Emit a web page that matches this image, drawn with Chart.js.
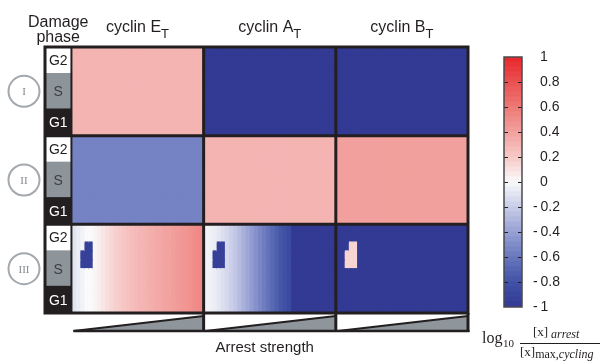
<!DOCTYPE html>
<html>
<head>
<meta charset="utf-8">
<script src="https://cdn.jsdelivr.net/npm/chart.js@4.4.1/dist/chart.umd.min.js"></script>
<style>
  html, body { margin: 0; padding: 0; background: #fff; }
  #wrap { position: relative; width: 602px; height: 364px; }
  #heat { position: absolute; left: 0; top: 0; }
  #bar { position: absolute; left: 480px; top: 40px; }
</style>
</head>
<body>
<div id="wrap">
  <canvas id="heat" width="602" height="364"></canvas>
  <canvas id="bar" width="122" height="280"></canvas>
</div>
<script>
const cyclins = ['E', 'A', 'B'];
const phases = ['G2', 'S', 'G1'];
const phaseRows = [3, 4, 3];          // share of the panel height per phase
const damageRows = ['I', 'II', 'III'];

// rows I and II are flat along arrest strength: one value per cyclin
const rowI = [0.3, -1, -1];
const rowII = [-0.55, 0.3, 0.4];

// row III, read along arrest strength (32 steps, weak -> strong)
const rowIII_E = [-0.1, -0.06, -0.03, 0, 0, 0.02, 0.05, 0.08, 0.11, 0.14, 0.17, 0.19, 0.21, 0.23, 0.25, 0.27,
                  0.29, 0.3, 0.32, 0.33, 0.35, 0.36, 0.38, 0.39, 0.41, 0.42, 0.44, 0.45, 0.47, 0.49, 0.51, 0.53];
const rowIII_A = [-0.03, -0.04, -0.06, -0.09, -0.12, -0.15, -0.19, -0.23, -0.28, -0.33, -0.38, -0.43, -0.48, -0.53, -0.58, -0.63,
                  -0.68, -0.73, -0.78, -0.82, -0.87, -1, -1, -1, -1, -1, -1, -1, -1, -1, -1, -1];
const rowIII_B = -1;

// small islands in row III: [cyclin, step, sub-row, value]
const patches = [
  [0, 3, 2, -0.95], [0, 4, 2, -0.95], [0, 2, 3, -0.95], [0, 3, 3, -0.95], [0, 4, 3, -0.95], [0, 2, 4, -0.95], [0, 3, 4, -0.95], [0, 4, 4, -0.95],
  [1, 3, 2, -0.95], [1, 4, 2, -0.95], [1, 2, 3, -0.95], [1, 3, 3, -0.95], [1, 4, 3, -0.95], [1, 2, 4, -0.95], [1, 3, 4, -0.95], [1, 4, 4, -0.95],
  [2, 3, 2, 0.15], [2, 4, 2, 0.15], [2, 2, 3, 0.15], [2, 3, 3, 0.15], [2, 4, 3, 0.15], [2, 2, 4, 0.15], [2, 3, 4, 0.15], [2, 4, 4, 0.15]
];

const colorTicks = [-1, -0.8, -0.6, -0.4, -0.2, 0, 0.2, 0.4, 0.6, 0.8, 1];
const cmapStops = [
  [50, 58, 148], [66, 82, 166], [106, 120, 190], [152, 162, 212], [200, 205, 232], [250, 250, 250],
  [246, 200, 198], [242, 160, 157], [238, 120, 117], [234, 80, 80], [232, 38, 42]
];

const ink = '#231f20';
const phaseFill = ['#ffffff', '#8d959a', ink];
const phaseText = [ink, '#3a3f43', '#ffffff'];
const labelW = 0.2;   // width of the phase column, in panel widths

function cmap(v) {
  v = Math.max(-1, Math.min(1, v));
  let i = 0;
  while (i < colorTicks.length - 2 && v > colorTicks[i + 1]) i++;
  const t = (v - colorTicks[i]) / (colorTicks[i + 1] - colorTicks[i]);
  const a = cmapStops[i], b = cmapStops[i + 1];
  const c = a.map((x, k) => Math.round(x + (b[k] - x) * t));
  return `rgb(${c[0]},${c[1]},${c[2]})`;
}

// one category per sub-row, top to bottom
const rowInfo = [];
damageRows.forEach((d, r) => {
  let sub = 0;
  phases.forEach((p, i) => {
    for (let k = 0; k < phaseRows[i]; k++) rowInfo.push({r, phase: i, sub: sub++, label: d + ' ' + p});
  });
});
const perRow = rowInfo.length / damageRows.length;
const nSteps = rowIII_E.length;
const rowIII = [rowIII_E, rowIII_A, rowIII_B];

function cellValue(r, c, s, sub) {
  if (r === 0) return rowI[c];
  if (r === 1) return rowII[c];
  const patch = patches.find(p => p[0] === c && p[1] === s && p[2] === sub);
  if (patch) return patch[3];
  return Array.isArray(rowIII[c]) ? rowIII[c][s] : rowIII[c];
}

const barStyle = {barPercentage: 1, categoryPercentage: 1, borderWidth: 0, inflateAmount: 0.6};
const datasets = [{
  ...barStyle,
  data: rowInfo.map(() => labelW),
  backgroundColor: rowInfo.map(o => phaseFill[o.phase])
}];
cyclins.forEach((cy, c) => {
  for (let s = 0; s < nSteps; s++) {
    datasets.push({
      ...barStyle,
      data: rowInfo.map(() => 1 / nSteps),
      backgroundColor: rowInfo.map(o => cmap(cellValue(o.r, c, s, o.sub)))
    });
  }
});

const decor = {
  id: 'decor',
  afterDraw(chart) {
    const {ctx, chartArea: a, scales: {x, y}} = chart;
    const xs = [0, labelW, labelW + 1, labelW + 2, labelW + 3].map(v => x.getPixelForValue(v));
    const edge = i => i <= 0 ? a.top : i >= rowInfo.length ? a.bottom
      : (y.getPixelForValue(i - 1) + y.getPixelForValue(i)) / 2;
    const ys = damageRows.map((d, r) => edge(r * perRow)).concat(a.bottom);
    ctx.save();

    // phase names in the left column
    ctx.textAlign = 'center';
    ctx.textBaseline = 'middle';
    ctx.font = '14px "Liberation Sans"';
    damageRows.forEach((d, r) => {
      let k = r * perRow;
      phases.forEach((p, i) => {
        const top = edge(k), bot = edge(k + phaseRows[i]);
        ctx.fillStyle = phaseText[i];
        ctx.fillText(p, (xs[0] + xs[1]) / 2, (top + bot) / 2 + 1);
        k += phaseRows[i];
      });
    });

    // panel frame
    ctx.strokeStyle = ink;
    ctx.lineWidth = 3;
    ctx.strokeRect(a.left, a.top, a.right - a.left, a.bottom - a.top);
    ctx.beginPath();
    [ys[1], ys[2]].forEach(py => { ctx.moveTo(a.left, py); ctx.lineTo(a.right, py); });
    ctx.stroke();
    ctx.lineWidth = 2;
    ctx.beginPath();
    ctx.moveTo(xs[1], a.top); ctx.lineTo(xs[1], a.bottom);
    ctx.stroke();

    // arrest strength wedges
    const sTop = a.bottom + 3, sBot = a.bottom + 18;
    for (let c = 0; c < 3; c++) {
      const x0 = xs[c + 1] + 2, x1 = xs[c + 2];
      ctx.fillStyle = '#8e969b';
      ctx.beginPath();
      ctx.moveTo(x0, sBot); ctx.lineTo(x1, sTop); ctx.lineTo(x1, sBot); ctx.closePath();
      ctx.fill();
      ctx.lineWidth = 2;
      ctx.beginPath();
      ctx.moveTo(x0, sBot); ctx.lineTo(x1, sTop);
      ctx.stroke();
    }
    ctx.lineWidth = 2.5;
    ctx.beginPath();
    ctx.moveTo(xs[1] + 2, sBot); ctx.lineTo(xs[4] + 1.5, sBot);
    ctx.stroke();
    ctx.lineWidth = 3;
    ctx.beginPath();
    [xs[2], xs[3]].forEach(px => { ctx.moveTo(px, a.top); ctx.lineTo(px, sBot + 1); });
    ctx.moveTo(xs[4], a.bottom); ctx.lineTo(xs[4], sBot + 1);
    ctx.stroke();

    // column headers
    ctx.fillStyle = ink;
    ctx.textAlign = 'left';
    ctx.textBaseline = 'alphabetic';
    cyclins.forEach((cy, c) => {
      const main = 'cyclin ' + cy;
      ctx.font = '16px "Liberation Sans"';
      const w1 = ctx.measureText(main).width;
      ctx.font = '13px "Liberation Sans"';
      const w2 = ctx.measureText('T').width;
      const cx = (xs[c + 1] + xs[c + 2]) / 2 - (w1 + w2) / 2;
      ctx.font = '16px "Liberation Sans"';
      ctx.fillText(main, cx, 32);
      ctx.font = '13px "Liberation Sans"';
      ctx.fillText('T', cx + w1, 38);
    });
    ctx.textAlign = 'center';
    ctx.font = '16px "Liberation Sans"';
    const lc = (xs[0] + xs[1]) / 2;
    ctx.fillText('Damage', lc, 27);
    ctx.fillText('phase', lc, 42);
    ctx.font = '15px "Liberation Sans"';
    ctx.fillText('Arrest strength', (xs[1] + xs[4]) / 2 - 5, 352);

    // damage row markers
    damageRows.forEach((d, r) => {
      const cy = (ys[r] + ys[r + 1]) / 2;
      ctx.strokeStyle = '#a3a8ad';
      ctx.lineWidth = 2;
      ctx.beginPath();
      ctx.arc(24, cy, 15.5, 0, Math.PI * 2);
      ctx.stroke();
      ctx.fillStyle = '#858b90';
      ctx.font = '11px "Liberation Serif"';
      ctx.textBaseline = 'middle';
      ctx.fillText(d, 24, cy + 1);
      ctx.textBaseline = 'alphabetic';
    });

    // colour bar caption
    ctx.fillStyle = ink;
    ctx.textAlign = 'left';
    ctx.font = '16px "Liberation Serif"';
    ctx.fillText('log', 482, 343);
    ctx.font = '11px "Liberation Serif"';
    ctx.fillText('10', 503, 347);
    ctx.font = '13px "Liberation Serif"';
    ctx.fillText('[x]', 533, 336);
    ctx.font = 'italic 12px "Liberation Serif"';
    ctx.fillText('arrest', 551, 338);
    ctx.lineWidth = 1;
    ctx.strokeStyle = ink;
    ctx.beginPath();
    ctx.moveTo(520, 343.5); ctx.lineTo(600, 343.5);
    ctx.stroke();
    ctx.font = '13px "Liberation Serif"';
    ctx.fillText('[x]', 520, 356);
    const wx = ctx.measureText('[x]').width;
    ctx.font = '12px "Liberation Serif"';
    ctx.fillText('max,', 520 + wx, 358);
    const wm = ctx.measureText('max,').width;
    ctx.font = 'italic 12px "Liberation Serif"';
    ctx.fillText('cycling', 520 + wx + wm, 358);
    ctx.restore();
  }
};

new Chart(document.getElementById('heat'), {
  type: 'bar',
  data: {labels: rowInfo.map(o => o.label), datasets: datasets},
  options: {
    indexAxis: 'y',
    responsive: false,
    animation: false,
    events: [],
    layout: {padding: {left: 45, top: 47, right: 134, bottom: 51}},
    plugins: {legend: {display: false}, tooltip: {enabled: false}},
    scales: {
      x: {type: 'linear', stacked: true, min: 0, max: labelW + 3, display: false},
      y: {stacked: true, display: false}
    }
  },
  plugins: [decor]
});

// colour bar
const levels = [];
for (let v = -1; v < 0.9999; v += 0.04) levels.push(v);
const frame = {
  id: 'frame',
  afterDraw(chart) {
    const {ctx, chartArea: a, scales: {y}} = chart;
    ctx.save();
    ctx.strokeStyle = ink;
    ctx.lineWidth = 1;
    ctx.beginPath();
    colorTicks.slice(1, -1).forEach(v => {
      const py = Math.round(y.getPixelForValue(v)) + 0.5;
      ctx.moveTo(a.left, py); ctx.lineTo(a.left + 4, py);
      ctx.moveTo(a.right - 4, py); ctx.lineTo(a.right, py);
    });
    ctx.stroke();
    ctx.strokeStyle = '#4a4a4e';
    ctx.lineWidth = 1.5;
    ctx.strokeRect(a.left, a.top, a.right - a.left, a.bottom - a.top);
    ctx.restore();
  }
};
new Chart(document.getElementById('bar'), {
  type: 'bar',
  data: {
    labels: [''],
    datasets: levels.map(v => ({
      data: [[v, v + 0.04]],
      backgroundColor: cmap(v + 0.02),
      grouped: false,
      barPercentage: 1,
      categoryPercentage: 1,
      borderWidth: 0,
      inflateAmount: 0.6
    }))
  },
  options: {
    responsive: false,
    animation: false,
    events: [],
    layout: {padding: {left: 24, right: 0, top: 17, bottom: 13}},
    plugins: {legend: {display: false}, tooltip: {enabled: false}},
    scales: {
      x: {display: false},
      y: {
        position: 'right',
        min: -1,
        max: 1,
        afterFit(s) { s.width = 80; },
        ticks: {
          stepSize: 0.2,
          padding: 3,
          color: ink,
          font: {family: 'Liberation Sans', size: 14},
          callback: v => {
            const r = Math.round(v * 10) / 10;
            return r < 0 ? '-\u2009' + String(-r) : '\u2002' + String(r);
          }
        },
        grid: {display: false},
        border: {display: false}
      }
    }
  },
  plugins: [frame]
});
</script>
</body>
</html>
